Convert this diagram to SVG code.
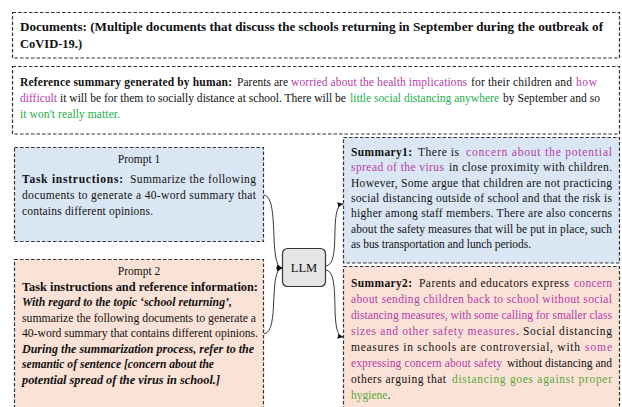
<svg xmlns="http://www.w3.org/2000/svg" width="622" height="407" viewBox="0 0 622 407">
<style>
.box{stroke:#333;stroke-width:1.2;stroke-dasharray:3.5 2;}
.t{font-family:"Liberation Serif","Times New Roman",serif;font-size:11.5px;fill:#111;}
.d{font-size:12.5px;}
.b{font-weight:bold;}
.bi{font-weight:bold;font-style:italic;}
.p{fill:#b43dab;}
.g{fill:#22b04b;}
.g2{fill:#5aa83a;}
.c{fill:none;stroke:#222;stroke-width:0.9;}
</style>
<defs>
<marker id="ah" viewBox="0 0 10 10" refX="9" refY="5" markerWidth="6" markerHeight="6" orient="auto" markerUnits="userSpaceOnUse">
<path d="M0,1 L10,5 L0,9 z" fill="#111"/>
</marker>
</defs>
<rect width="622" height="407" fill="#fff"/>

<g id="documents">
<rect class="box" x="12.5" y="12.5" width="607" height="45.5" fill="#fff"/>
<text class="t d b" x="20" y="31" textLength="583" lengthAdjust="spacingAndGlyphs">Documents: (Multiple documents that discuss the schools returning in September during the outbreak of</text>
<text class="t d b" x="20" y="48">CoVID-19.)</text>
</g>

<g id="reference">
<rect class="box" x="12.5" y="66.5" width="607" height="67.5" fill="#fff"/>
<text class="t b" x="20" y="86" textLength="212">Reference summary generated by human:</text>
<text class="t" x="237" y="86" textLength="51">Parents are</text>
<text class="t p" x="291" y="86" textLength="176">worried about the health implications</text>
<text class="t" x="471" y="86" textLength="101">for their children and</text>
<text class="t p" x="576" y="86" textLength="21">how</text>
<text class="t p" x="20" y="102" textLength="37">difficult</text>
<text class="t" x="60" y="102" textLength="286" lengthAdjust="spacingAndGlyphs">it will be for them to socially distance at school. There will be</text>
<text class="t g" x="350" y="102" textLength="149">little social distancing anywhere</text>
<text class="t" x="503" y="102" textLength="97">by September and so</text>
<text class="t g" x="20" y="118" textLength="100">it won't really matter.</text>
</g>

<g id="prompt1">
<rect class="box" x="14.5" y="147.5" width="249" height="94" fill="#dae6f4"/>
<text class="t" x="139" y="163" text-anchor="middle">Prompt 1</text>
<text class="t b" x="22" y="183" textLength="101">Task instructions:</text>
<text class="t" x="130" y="183" textLength="126">Summarize the following</text>
<text class="t" x="22" y="199" textLength="234">documents to generate a 40-word summary that</text>
<text class="t" x="22" y="215" textLength="131">contains  different opinions.</text>
</g>

<g id="prompt2">
<rect class="box" x="14.5" y="259.5" width="249" height="150" fill="#fbe2d6"/>
<text class="t" x="139" y="275" text-anchor="middle">Prompt 2</text>
<text class="t b" x="22" y="291" textLength="236" lengthAdjust="spacingAndGlyphs">Task instructions and reference information:</text>
<text class="t bi" x="22" y="306" textLength="210" lengthAdjust="spacingAndGlyphs">With regard to the topic ‘school returning’,</text>
<text class="t" x="22" y="322" textLength="234" lengthAdjust="spacingAndGlyphs">summarize the following documents to generate a</text>
<text class="t" x="22" y="337" textLength="236" lengthAdjust="spacingAndGlyphs">40-word summary that contains different opinions.</text>
<text class="t bi" x="22" y="353" textLength="232" lengthAdjust="spacingAndGlyphs">During the summarization process, refer to the</text>
<text class="t bi" x="22" y="368" textLength="192" lengthAdjust="spacingAndGlyphs">semantic of sentence [concern about the</text>
<text class="t bi" x="22" y="384" textLength="198" lengthAdjust="spacingAndGlyphs">potential spread of the virus in school.]</text>
</g>

<g id="llm">
<rect x="282.5" y="248.5" width="43" height="38" rx="5" fill="#e5e5e5" stroke="#333" stroke-width="1.2"/>
<text class="t" x="304" y="272" text-anchor="middle" style="font-size:12.5px">LLM</text>
</g>

<g id="summary1">
<rect class="box" x="343.5" y="137.5" width="276" height="125.5" fill="#dae6f4"/>
<text class="t b" x="351" y="156" textLength="61">Summary1:</text>
<text class="t" x="418" y="156" textLength="41">There is</text>
<text class="t p" x="466" y="156" textLength="146">concern about the potential</text>
<text class="t p" x="351" y="171" textLength="93">spread of the virus</text>
<text class="t" x="449" y="171" textLength="163">in close proximity with children.</text>
<text class="t" x="351" y="187" textLength="261">However, Some argue that children are not practicing</text>
<text class="t" x="351" y="202" textLength="261">social distancing outside of school and that the risk is</text>
<text class="t" x="351" y="217" textLength="261">higher among staff members. There are also concerns</text>
<text class="t" x="351" y="233" textLength="261">about the safety measures that will be put in place, such</text>
<text class="t" x="351" y="248" textLength="180">as bus transportation and lunch periods.</text>
</g>

<g id="summary2">
<rect class="box" x="343.5" y="266.5" width="276" height="145" fill="#fbe2d6"/>
<text class="t b" x="351" y="287" textLength="61">Summary2:</text>
<text class="t" x="419" y="287" textLength="150">Parents and educators express</text>
<text class="t p" x="574" y="287" textLength="38">concern</text>
<text class="t p" x="351" y="303" textLength="261">about sending children back to school without social</text>
<text class="t p" x="351" y="319" textLength="261">distancing measures, with some calling for smaller class</text>
<text class="t p" x="351" y="335" textLength="164">sizes and other safety measures</text>
<text class="t" x="516" y="335" textLength="96">. Social distancing</text>
<text class="t" x="351" y="351" textLength="229">measures in schools are controversial, with</text>
<text class="t p" x="585" y="351" textLength="27">some</text>
<text class="t p" x="351" y="367" textLength="151">expressing concern about safety</text>
<text class="t" x="507" y="367" textLength="105">without distancing and</text>
<text class="t" x="351" y="383" textLength="95">others arguing that</text>
<text class="t g2" x="452" y="383" textLength="160">distancing goes against proper</text>
<text class="t" x="351" y="399"><tspan class="g2">hygiene</tspan>.</text>
</g>

<g id="connectors">
<path class="c" d="M264,195 C280,197 268,266 282,268" marker-end="url(#ah)"/>
<path class="c" d="M264,334 C280,332 268,270 282,268" marker-end="url(#ah)"/>
<path class="c" d="M326,266 C342,264 328,206 343,204" marker-end="url(#ah)"/>
<path class="c" d="M326,270 C342,272 328,335 343,337" marker-end="url(#ah)"/>
</g>
</svg>
